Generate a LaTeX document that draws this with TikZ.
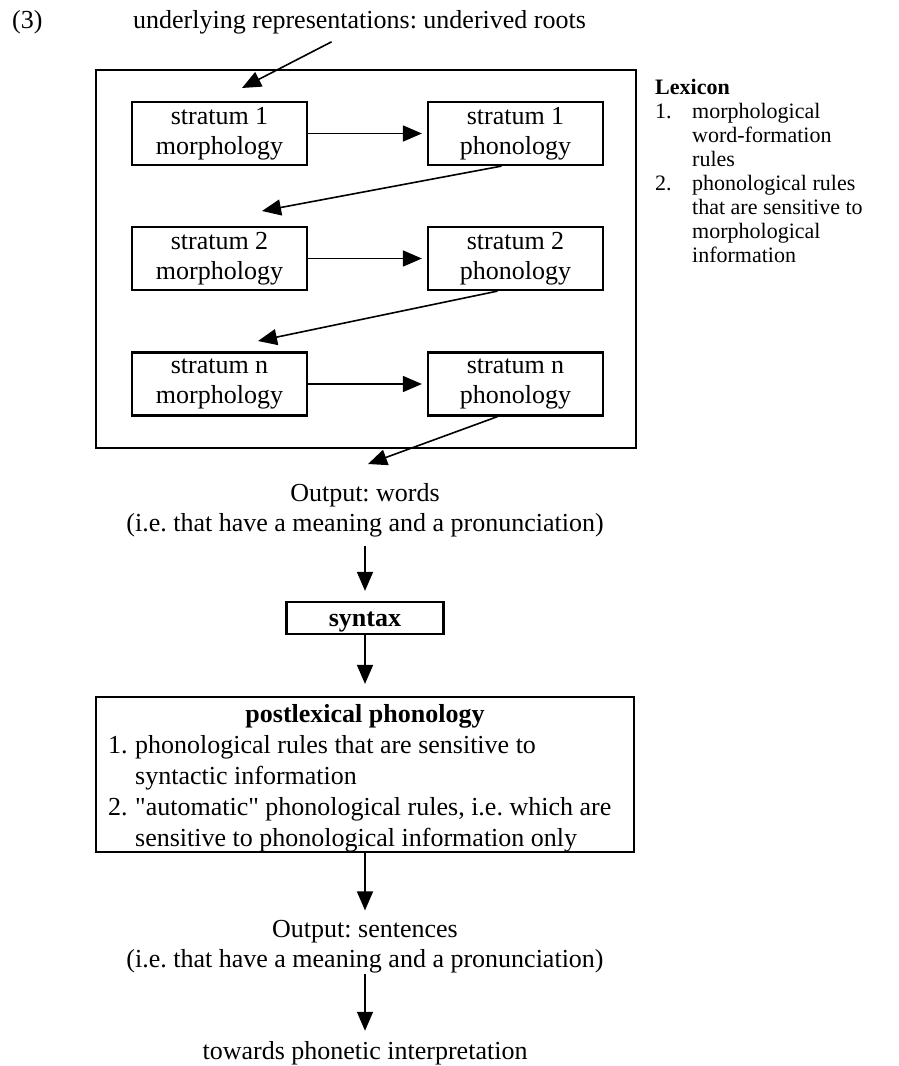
\documentclass[tikz,border=0pt]{standalone}
\usepackage{fontspec}
\setmainfont{Liberation Serif}
\usetikzlibrary{arrows.meta,positioning,calc}
\newcommand\fonteprincipal{\fontsize{26}{30}\selectfont}
\newcommand\fontelista{\fontsize{26}{31}\selectfont}
\newcommand\fontelexico{\fontsize{22}{24}\selectfont}
\frenchspacing
\tikzset{
  caixa/.style={draw=black, line width=2.2pt, inner sep=0pt},
  estrato/.style={caixa, align=center, minimum width=175pt, minimum height=63pt},
  flecha/.style={-{Triangle[length=19pt,width=16pt]}, line width=1.6pt},
  flechav/.style={flecha, shorten >=10pt},
  rotulo/.style={inner sep=0pt, align=center},
}
\begin{document}
\begin{tikzpicture}[x=1pt, y=-1pt, font=\fonteprincipal]
  \useasboundingbox (0,0) rectangle (899,1066);

  % cabeçalho
  \node[rotulo, anchor=base west] (num) at (12,28) {(3)};
  \node[rotulo, anchor=base west] (raizes) at (133,28) {underlying representations: underived roots};

  % léxico: caixa externa e estratos
  \node[caixa, minimum width=540pt, minimum height=378pt] (lexbox) at (366,259) {};
  \node[estrato] (m1) at (219.5,133.5) {stratum 1\\morphology};
  \node[estrato] (f1) at (515.5,133.5) {stratum 1\\phonology};
  \node[estrato] (m2) at (219.5,258.5) {stratum 2\\morphology};
  \node[estrato] (f2) at (515.5,258.5) {stratum 2\\phonology};
  \node[estrato] (mn) at (219.5,384)   {stratum n\\morphology};
  \node[estrato] (fn) at (515.5,384)   {stratum n\\phonology};
  \coordinate (e1) at (242,88);
  \coordinate (e2) at (262,211);
  \coordinate (e3) at (258,341);
  \coordinate (e4) at (368,464);

  \draw[flecha] ([xshift=-28pt,yshift=-8pt]raizes.south) -- (e1);
  \foreach \a/\b in {m1/f1, m2/f2, mn/fn}{
    \draw[flecha, shorten >=5pt] (\a) -- (\b);
  }
  \draw[flecha] ([xshift=-14pt]f1.south) -- (e2);
  \draw[flecha] ([xshift=-18pt]f2.south) -- (e3);
  \draw[flecha] ([xshift=-18pt]fn.south) -- (e4);

  % legenda do léxico
  \node[anchor=base west, inner sep=0pt, font=\fontelexico] (lexico) at (655,94) {%
    \begin{tabular}[t]{@{}p{37pt}@{}l@{}}
      \multicolumn{2}{@{}l@{}}{\textbf{Lexicon}}\\
      1. & morphological\\
         & word-formation\\
         & rules\\
      2. & phonological rules\\
         & that are sensitive to\\
         & morphological\\
         & information
    \end{tabular}};

  % saída do léxico, sintaxe e fonologia pós-lexical
  \node[rotulo] (saida1) at (365,510) {Output: words\\(i.e. that have a meaning and a pronunciation)};
  \node[caixa, minimum width=157pt, minimum height=32pt, text height=22pt, text depth=5.6pt] (sintaxe) at (365,618) {\textbf{syntax}};
  \node[caixa, minimum width=538pt, minimum height=155pt] (poslex) at (365,774.5) {};
  \node[rotulo, anchor=base] (poslexT) at (365,722) {\textbf{postlexical phonology}};
  \node[anchor=base west, inner sep=0pt, font=\fontelista] (poslexL) at (108,753) {%
    \begin{tabular}[t]{@{}p{27pt}@{}l@{}}
      1. & phonological rules that are sensitive to\\
         & syntactic information\\
      2. & \textquotedbl automatic\textquotedbl{} phonological rules, i.e. which are\\
         & sensitive to phonological information only
    \end{tabular}};
  \node[rotulo] (saida2) at (365,947) {Output: sentences\\(i.e. that have a meaning and a pronunciation)};
  \node[rotulo, anchor=base] (fonetica) at (365,1059) {towards phonetic interpretation};

  \draw[flechav, shorten <=9pt] (saida1) -- (sintaxe);
  \draw[flechav, shorten >=12pt] (sintaxe) -- (poslex);
  \draw[flechav] (poslex) -- (saida2);
  \draw[flechav] (saida2) -- (fonetica);
\end{tikzpicture}
\end{document}
